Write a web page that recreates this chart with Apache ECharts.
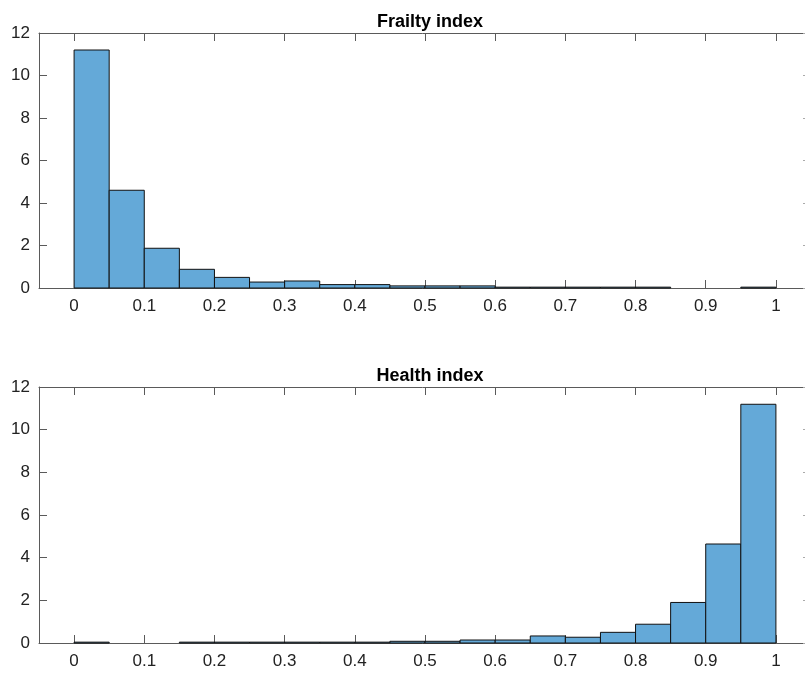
<!DOCTYPE html>
<html>
<head>
<meta charset="utf-8">
<script src="https://cdn.jsdelivr.net/npm/echarts@6/dist/echarts.min.js"></script>
<style>
html,body{margin:0;padding:0;background:#fff;}
#chart{width:805px;height:673px;}
</style>
</head>
<body>
<div id="chart"></div>
<script>
// Bin edges (width 0.05) from 0 to 1
var binEdges = [0,0.05,0.1,0.15,0.2,0.25,0.3,0.35,0.4,0.45,0.5,0.55,0.6,0.65,0.7,0.75,0.8,0.85,0.9,0.95,1];
// Density values
var frailtyValues = [11.2,4.6,1.87,0.88,0.5,0.28,0.33,0.16,0.16,0.1,0.1,0.1,0.04,0.04,0.04,0.04,0.04,0,0,0.04];
var healthValues  = [0.04,0,0,0.04,0.04,0.04,0.04,0.04,0.04,0.08,0.08,0.14,0.14,0.33,0.27,0.5,0.88,1.9,4.64,11.19];
var xTicks = [0,0.1,0.2,0.3,0.4,0.5,0.6,0.7,0.8,0.9,1];
var yTicks = [0,2,4,6,8,10,12];
var titles = ['Frailty index','Health index'];

function toData(vals){
  return vals.map(function(v,i){ return [binEdges[i], binEdges[i+1], v]; });
}
var FONT = '"Liberation Sans", Arial, Helvetica, sans-serif';
var axisColor = '#5a5a5a';

function renderItem(params, api){
  if (api.value(2) <= 0) return null;
  var p0 = api.coord([api.value(0), api.value(2)]);
  var p1 = api.coord([api.value(1), 0]);
  return {
    type:'rect',
    shape:{x:p0[0], y:p0[1], width:p1[0]-p0[0], height:p1[1]-p0[1]},
    style:{fill:'#64a9d8', stroke:'#111', lineWidth:1}
  };
}

var grids = [
  {left:39, width:772, top:33, height:255, outerBoundsMode:'none', containLabel:false},
  {left:39, width:772, top:387, height:256, outerBoundsMode:'none', containLabel:false}
];
var xAxes = [], yAxes = [], series = [], titleArr = [];
var datasets = [frailtyValues, healthValues];
for (var g=0; g<2; g++){
  xAxes.push({
    type:'value', gridIndex:g, min:-0.05, max:1.05, position:'bottom',
    axisLine:{show:true, onZero:false, lineStyle:{color:axisColor, width:1}},
    axisTick:{show:true, inside:true, length:8, customValues:xTicks, lineStyle:{color:axisColor}},
    axisLabel:{show:true, customValues:xTicks, margin:10, color:'#222', fontSize:17, fontFamily:FONT,
      formatter:function(v){ return String(Math.round(v*10)/10); }},
    splitLine:{show:false}
  });
  xAxes.push({
    type:'value', gridIndex:g, min:-0.05, max:1.05, position:'top',
    axisLine:{show:true, onZero:false, lineStyle:{color:axisColor, width:1}},
    axisTick:{show:true, inside:true, length:8, customValues:xTicks, lineStyle:{color:axisColor}},
    axisLabel:{show:false}, splitLine:{show:false}
  });
  yAxes.push({
    type:'value', gridIndex:g, min:0, max:12, interval:2, position:'left',
    axisLine:{show:true, onZero:false, lineStyle:{color:axisColor, width:1}},
    axisTick:{show:true, inside:true, length:8, lineStyle:{color:axisColor}},
    axisLabel:{show:true, margin:9, color:'#222', fontSize:17, fontFamily:FONT},
    splitLine:{show:false}
  });
  yAxes.push({
    type:'value', gridIndex:g, min:0, max:12, interval:2, position:'right',
    axisLine:{show:true, onZero:false, lineStyle:{color:axisColor, width:1}},
    axisTick:{show:true, inside:true, length:8, lineStyle:{color:'#aaa'}},
    axisLabel:{show:false}, splitLine:{show:false}
  });
  series.push({
    type:'custom', xAxisIndex:g*2, yAxisIndex:g*2, renderItem:renderItem,
    encode:{x:[0,1], y:2}, data:toData(datasets[g]), silent:true, clip:false
  });
  titleArr.push({
    text:titles[g], left:425, textAlign:'center', top: g===0 ? 8 : 362,
    textStyle:{fontSize:18, fontWeight:'bold', color:'#000', fontFamily:FONT}
  });
}

var chart = echarts.init(document.getElementById('chart'), null, {renderer:'canvas'});
chart.setOption({
  animation:false,
  backgroundColor:'#fff',
  title:titleArr,
  grid:grids,
  xAxis:xAxes,
  yAxis:yAxes,
  series:series
});
</script>
</body>
</html>
